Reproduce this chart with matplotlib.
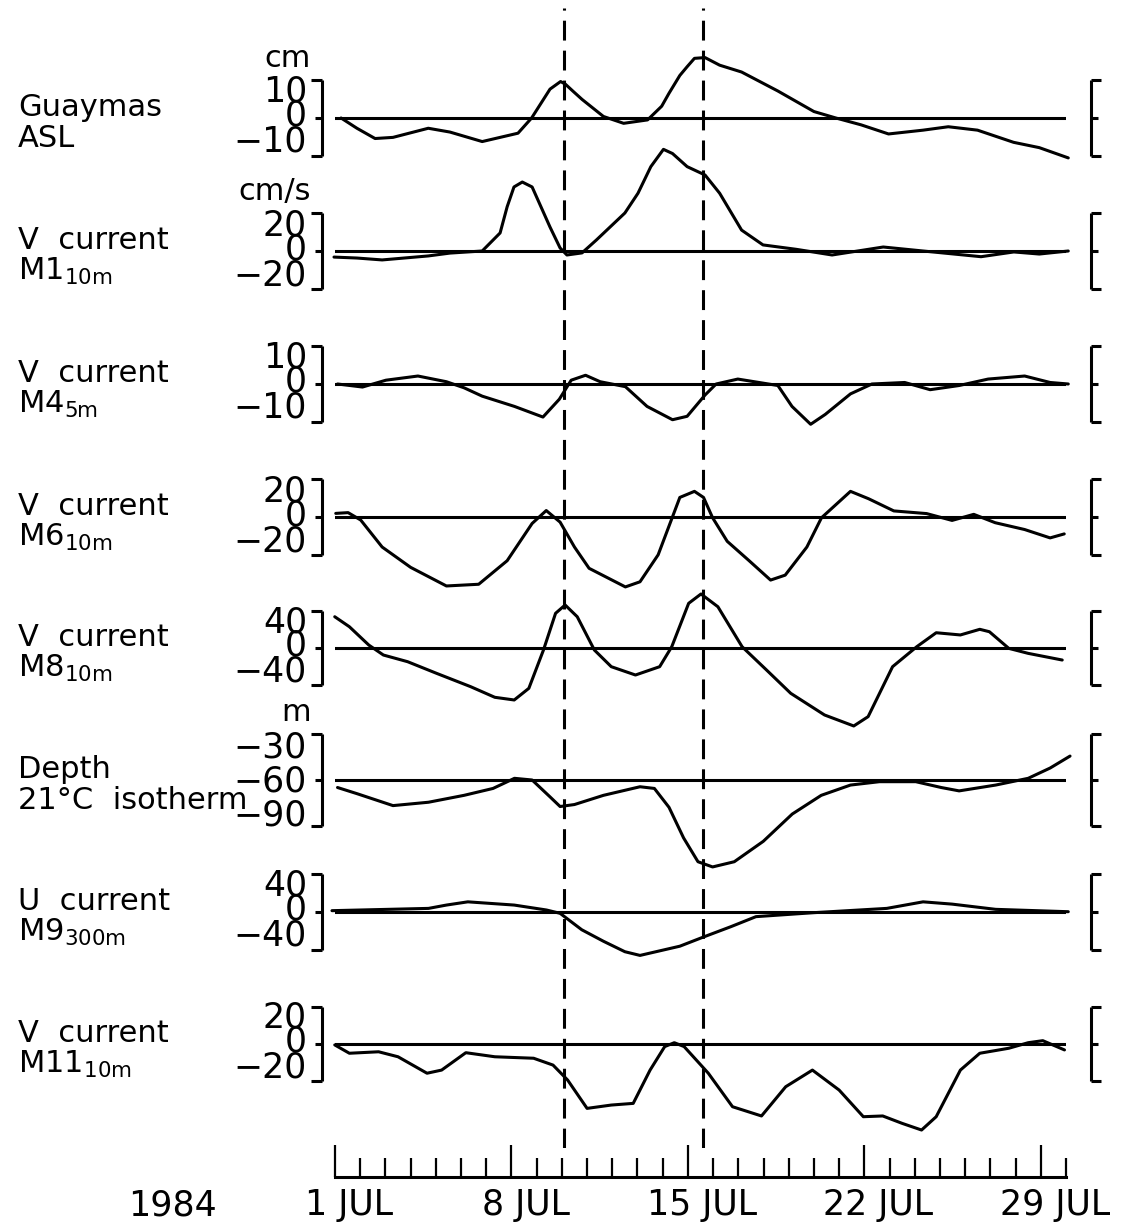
import matplotlib
matplotlib.use("Agg")
import matplotlib.pyplot as plt
from matplotlib.lines import Line2D
from matplotlib.transforms import offset_copy

W, H = 1129, 1224
X0_PX, X1_PX = 335, 1066      # pixel span of day 1 .. day 30
DAY0, DAY1 = 1, 30

plt.rcParams['font.family'] = ['DejaVu Sans']
plt.rcParams['mathtext.default'] = 'regular'
NARROW = ['Liberation Sans Narrow', 'DejaVu Sans']

# ---- series (day of July 1984, value) ----
asl_day = [1.24, 1.87, 2.59, 3.3, 4.7, 5.56, 6.84, 7.55, 8.26, 8.8, 9.53, 9.95, 10.14, 10.45, 10.8,
           11.65, 12.45, 13.4, 13.96, 14.25, 14.68, 14.97, 15.26, 15.68, 16.26, 17.13, 18.57, 20.0,
           20.87, 21.87, 22.96, 24.33, 25.33, 26.49, 27.92, 28.94, 30.09]
asl_val = [0, -2.7, -5.4, -5.1, -2.7, -3.7, -6.2, -5.1, -4, 0, 7.6, 9.6, 8.9, 7.0, 4.9,
           0.4, -1.4, -0.5, 3.1, 6.5, 11.2, 13.5, 15.7, 15.9, 13.9, 12.1, 7.1, 1.7,
           0, -1.8, -4.2, -3.2, -2.3, -3.2, -6.4, -7.8, -10.5]

m1_day = [0.96, 1.87, 2.87, 4.7, 5.56, 6.84, 7.55, 7.83, 8.1, 8.43, 8.82, 9.17, 9.53, 9.93, 10.2,
          10.8, 11.37, 12.5, 13.02, 13.53, 14.03, 14.39, 14.97, 15.68, 16.26, 17.13, 17.98, 19.29,
          20.72, 22.75, 24.33, 26.63, 27.93, 28.94, 30.09]
m1_val = [-3.2, -3.7, -4.7, -2.6, -1.1, 0, 9.5, 23.3, 33.7, 36.3, 33.7, 23.3, 12.6, 1.6, -2.1,
          -1, 5.8, 20, 30.4, 44.4, 53.5, 51.3, 44.4, 40, 30.4, 11, 3.2, 0.9,
          -2.1, 2.1, 0, -3, -0.5, -1.6, 0]

m4_day = [1.1, 2.09, 3.02, 4.29, 5.42, 6.12, 6.84, 8.12, 9.25, 9.9, 10.37, 10.94, 11.52, 12.52,
          13.38, 14.39, 14.97, 15.68, 16.12, 16.98, 18.57, 19.13, 19.87, 20.45, 21.45, 22.3, 23.6,
          24.61, 25.76, 26.91, 28.36, 29.37, 30.09]
m4_val = [0, -0.8, 1, 2.1, 0.6, -1, -3.2, -5.9, -8.7, -4, 1, 2.3, 0.6, -0.7,
          -5.9, -9.4, -8.5, -2.9, 0, 1.3, -0.4, -5.9, -10.6, -8, -2.6, 0, 0.4,
          -1.5, -0.4, 1.3, 2.1, 0.4, 0]

m6_day = [1.03, 1.52, 2.02, 2.87, 4.0, 5.42, 6.7, 7.83, 8.82, 9.38, 9.93, 10.5, 11.08, 12.52, 13.1,
          13.82, 14.68, 15.26, 15.62, 15.98, 16.56, 17.42, 18.28, 18.86, 19.72, 20.3, 21.45, 22.17,
          23.17, 24.47, 25.48, 26.34, 27.19, 28.36, 29.37, 29.93]
m6_val = [1.9, 2.3, -1.6, -15.8, -26.5, -36.3, -35.4, -23, -3.4, 3.4, -2.7, -15.8, -27, -36.8, -34.1,
          -19.9, 10.3, 13.5, 10.3, -0.4, -12.8, -22.9, -33.2, -30.6, -15.8, -0.4, 13.5, 9.6,
          3.2, 1.8, -1.8, 1.4, -3, -6.6, -11, -8.9]

m8_day = [0.99, 1.57, 2.34, 2.92, 3.88, 5.03, 6.38, 7.34, 8.11, 8.69, 9.27, 9.75, 10.13, 10.61,
          11.29, 11.96, 12.92, 13.88, 14.36, 15.03, 15.52, 16.19, 17.15, 18.12, 19.08, 20.42,
          21.58, 22.15, 23.12, 24.08, 24.85, 25.81, 26.58, 26.96, 27.73, 28.5, 29.85]
m8_val = [33.8, 23, 3.2, -7.6, -14.8, -27.4, -41.8, -53.3, -56.2, -43.6, -2.2, 37.5, 46.5, 33.8,
          -2.2, -20.2, -29.2, -20.2, 1.4, 48.3, 58.4, 44.6, 1.4, -23.8, -49, -72.4,
          -84.3, -74.2, -20.2, 1.4, 16.5, 14.1, 20.2, 17.6, -0.4, -5.8, -13]

depth_day = [1.1, 1.87, 3.3, 4.71, 6.12, 7.27, 8.12, 8.82, 9.53, 9.93, 10.5, 11.65, 13.1, 13.67,
             14.25, 14.83, 15.4, 15.98, 16.84, 17.99, 19.14, 20.29, 21.45, 22.6, 24.04, 25.05,
             25.76, 27.21, 28.5, 29.37, 30.16]
depth_val = [-64.9, -68.9, -76.7, -74.5, -70, -65.5, -58.9, -60, -71, -77.3, -76, -70, -64.4, -65.5,
             -77.8, -97.8, -113.3, -116.7, -113.3, -100, -82.2, -70, -63.3, -61.1, -61.1, -64.9,
             -67.1, -63.3, -58.9, -52.2, -44.4]

u9_day = [0.88, 4.71, 5.42, 6.27, 8.11, 9.39, 9.93, 10.79, 11.65, 12.5, 13.1, 14.68, 15.68, 16.7,
          17.7, 20.0, 22.89, 24.33, 25.48, 27.21, 30.09]
u9_val = [1.4, 3.8, 7.3, 10.7, 7.3, 2.1, -1.4, -18.7, -30.8, -41.8, -45.7, -36, -25.7, -15.5,
          -4.9, -0.7, 3.8, 10.7, 8.3, 2.8, 0.3]

m11_day = [0.99, 1.57, 2.73, 3.5, 4.65, 5.23, 6.19, 7.34, 8.88, 9.65, 10.23, 11.0, 11.96, 12.83,
           13.5, 14.08, 14.46, 14.85, 15.81, 16.77, 17.92, 18.88, 19.94, 21.0, 21.96, 22.73, 23.5,
           24.27, 24.85, 25.81, 26.58, 27.73, 28.5, 29.08, 29.94]
m11_val = [-0.5, -5, -4.2, -6.9, -15.8, -14.1, -4.7, -6.9, -7.7, -11.4, -19.5, -34.8, -33, -32.1,
           -14.1, -1.4, 0.7, -1.4, -15.8, -33.9, -38.9, -23.1, -14.1, -24.9, -39.3, -38.9, -42.9,
           -46.5, -39.3, -14.1, -5, -2.3, 0.7, 1.8, -3.2]

event_days = [10.1, 15.6]
major_days = [1, 8, 15, 22, 29]
major_labels = ['1 JUL', '8 JUL', '15 JUL', '22 JUL', '29 JUL']

# name lines, unit, data, tick labels (top, mid, bottom), centre, step, zero-line pixel y, half-height px
panels = [
    ('Guaymas', 'ASL', 'cm', asl_day, asl_val, ('10', '0', '\u221210'), 0, 10, 118, 38),
    ('V  current', 'M1$_{10m}$', 'cm/s', m1_day, m1_val, ('20', '0', '\u221220'), 0, 20, 251, 38),
    ('V  current', 'M4$_{5m}$', None, m4_day, m4_val, ('10', '0', '\u221210'), 0, 10, 384, 38),
    ('V  current', 'M6$_{10m}$', None, m6_day, m6_val, ('20', '0', '\u221220'), 0, 20, 517, 38),
    ('V  current', 'M8$_{10m}$', None, m8_day, m8_val, ('40', '0', '\u221240'), 0, 40, 648, 37),
    ('Depth', '21\u00b0C  isotherm', 'm', depth_day, depth_val, ('\u221230', '\u221260', '\u221290'), -60, 30, 780, 46),
    ('U  current', 'M9$_{300m}$', None, u9_day, u9_val, ('40', '0', '\u221240'), 0, 40, 912, 38),
    ('V  current', 'M11$_{10m}$', None, m11_day, m11_val, ('20', '0', '\u221220'), 0, 20, 1044, 37),
]

LW = 2.2
FS_LAB = 22
FS_TICK = 25


def fx(px):
    return px / W


def fy(py):
    return 1 - py / H


def seg(x0, y0, x1, y1):
    fig.add_artist(Line2D([fx(x0), fx(x1)], [fy(y0), fy(y1)], color='k', lw=LW,
                          solid_capstyle='butt', transform=fig.transFigure))


fig = plt.figure(figsize=(W / 100, H / 100), dpi=100)
fig.patch.set_facecolor('white')

for name1, name2, unit, day, val, tlabs, centre, step, y0, half in panels:
    ax = fig.add_axes([fx(X0_PX), fy(y0 + half), (X1_PX - X0_PX) / W, 2 * half / H])
    ax.set_xlim(DAY0, DAY1)
    ax.set_ylim(centre - step, centre + step)
    ax.axis('off')
    ax.axhline(centre, color='k', lw=LW)
    ax.plot(day, val, color='k', lw=LW, clip_on=False, solid_joinstyle='round',
            solid_capstyle='round')

    # brackets
    seg(322, y0 - half, 322, y0 + half)
    seg(311, y0 - half, 322, y0 - half)
    seg(311, y0 + half, 322, y0 + half)
    seg(315, y0, 322, y0)
    seg(1091, y0 - half, 1091, y0 + half)
    seg(1091, y0 - half, 1101, y0 - half)
    seg(1091, y0 + half, 1101, y0 + half)
    seg(1091, y0, 1098, y0)

    # scale labels
    if half > 40:
        offs = (-22, 12, 45)
    else:
        offs = (-16, 8, 34)
    for lab, off in zip(tlabs, offs):
        fig.text(fx(307), fy(y0 + off), lab, ha='right', va='baseline', fontsize=FS_TICK,
                 family=NARROW)

    fig.text(fx(18), fy(y0 - 2), name1, ha='left', va='baseline', fontsize=FS_LAB)
    fig.text(fx(18), fy(y0 + 29), name2, ha='left', va='baseline', fontsize=FS_LAB)
    if unit:
        fig.text(fx(311), fy(y0 - half - 13), unit, ha='right', va='baseline', fontsize=FS_LAB)

# dashed event lines
ov = fig.add_axes([fx(X0_PX), fy(1148), (X1_PX - X0_PX) / W, (1148 - 8) / H])
ov.set_xlim(DAY0, DAY1)
ov.set_ylim(0, 1)
ov.axis('off')
ov.patch.set_alpha(0)
for d in event_days:
    ov.axvline(d, color='k', lw=LW, linestyle=(0, (6.5, 3.3)))

# time axis
tax = fig.add_axes([fx(X0_PX), fy(1177), (X1_PX - X0_PX) / W, 40 / H])
tax.set_xlim(DAY0, DAY1)
tax.set_ylim(0, 1)
tax.patch.set_alpha(0)
for s in ('top', 'left', 'right'):
    tax.spines[s].set_visible(False)
tax.spines['bottom'].set_linewidth(LW)
tax.set_yticks([])
tax.set_xticks(major_days)
tax.set_xticks(range(DAY0, DAY1 + 1), minor=True)
tax.tick_params(axis='x', which='major', direction='in', length=23, width=1.6, labelbottom=False)
tax.tick_params(axis='x', which='minor', direction='in', length=13.5, width=1.6)
lab_tr = offset_copy(tax.transData, fig=fig, x=14, y=-(1215 - 1177), units='dots')
for d, lab in zip(major_days, major_labels):
    tax.text(d, 0, lab, transform=lab_tr, ha='center', va='baseline', fontsize=FS_TICK,
             family=NARROW, clip_on=False)
fig.text(fx(172), fy(1215), '1984', ha='center', va='baseline', fontsize=FS_TICK, family=NARROW)

fig.savefig('out.png', dpi=100, facecolor='white')
